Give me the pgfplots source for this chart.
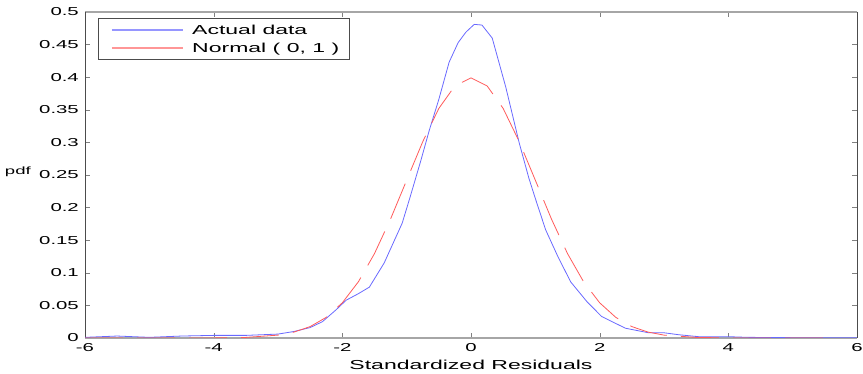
\documentclass[border=0pt]{standalone}
\usepackage{fontspec}
\setmainfont{Liberation Sans}
\usepackage{graphicx}
\usepackage{pgfplots}
\pgfplotsset{compat=1.18}
\newcommand\sx[1]{\scalebox{1.77}[1]{#1}}
\definecolor{cblue}{RGB}{105,105,255}
\definecolor{cred}{RGB}{255,90,90}
\definecolor{lblue}{RGB}{150,150,255}
\definecolor{lred}{RGB}{255,150,150}
\begin{document}
\begin{tikzpicture}
\begin{axis}[
  at={(85pt,36pt)}, anchor=south west,
  scale only axis, width=772pt, height=326pt,
  xmin=-6, xmax=6, ymin=0, ymax=0.5,
  xtick={-6,-4,-2,0,2,4,6},
  xticklabels={\sx{-6},\sx{-4},\sx{-2},\sx{0},\sx{2},\sx{4},\sx{6}},
  ytick={0,0.05,0.1,0.15,0.2,0.25,0.3,0.35,0.4,0.45,0.5},
  yticklabels={\sx{0},\sx{0.05},\sx{0.1},\sx{0.15},\sx{0.2},\sx{0.25},\sx{0.3},\sx{0.35},\sx{0.4},\sx{0.45},\sx{0.5}},
  tick label style={font=\fontsize{11.5pt}{13pt}\selectfont, inner sep=0pt},
  xticklabel style={yshift=-5pt},
  yticklabel style={xshift=-6pt},
  tick align=inside, major tick length=5pt,
  separate axis lines,
  x axis line style={draw=black!35, line width=1.4pt},
  y axis line style={draw=black!70, line width=0.9pt},
  xlabel={\sx{Standardized Residuals}},
  ylabel={\sx{pdf}},
  every axis x label/.style={at={(axis description cs:0.5,0)}, anchor=north, yshift=-22pt,
    font=\fontsize{13pt}{15pt}\selectfont, inner sep=0pt},
  every axis y label/.style={at={(axis description cs:0,0.5)}, anchor=east, xshift=-54pt, yshift=3pt,
    font=\fontsize{10.5pt}{12pt}\selectfont, inner sep=0pt},
]
\addplot[draw=cblue, line width=0.8pt] coordinates {
(-6,0.001) (-5.5,0.003) (-5,0.001) (-4.5,0.003) (-4,0.004) (-3.5,0.004) (-3,0.006)
(-2.75,0.010) (-2.5,0.016) (-2.31,0.025) (-2.1,0.043) (-1.94,0.058) (-1.75,0.068)
(-1.58,0.078) (-1.35,0.115) (-1.07,0.176) (-0.95,0.215) (-0.78,0.272) (-0.65,0.318)
(-0.5,0.366) (-0.34,0.423) (-0.2,0.453) (-0.08,0.469) (0.05,0.481) (0.17,0.480)
(0.33,0.46) (0.54,0.385) (0.75,0.299) (0.9,0.245) (1.0,0.214) (1.16,0.166)
(1.35,0.125) (1.55,0.086) (1.8,0.056) (2.03,0.033) (2.4,0.015) (2.76,0.008)
(3.0,0.008) (3.23,0.005) (3.54,0.002) (4,0.002) (4.3,0.001) (5,0.0005) (6,0.0005)
};
\addplot[draw=cred, line width=0.8pt, dash pattern=on 38pt off 14pt] coordinates {
(-6,0) (-5,0) (-4.5,0) (-4,0.0001) (-3.5,0.0009) (-3,0.0044) (-2.75,0.0091)
(-2.5,0.0175) (-2.25,0.0317) (-2,0.0540) (-1.75,0.0863) (-1.5,0.1295)
(-1.25,0.1826) (-1,0.2420) (-0.75,0.3011) (-0.5,0.3521) (-0.25,0.3867)
(0,0.3989) (0.25,0.3867) (0.5,0.3521) (0.75,0.3011) (1,0.2420) (1.25,0.1826)
(1.5,0.1295) (1.75,0.0863) (2,0.0540) (2.25,0.0317) (2.5,0.0175) (2.75,0.0091)
(3,0.0044) (3.5,0.0009) (4,0.0001) (4.5,0) (5,0) (5.5,0)
};
% legend (decoration)
\draw[black!70, line width=0.8pt, fill=white]
  (rel axis cs:0.01684,0.98160) rectangle (rel axis cs:0.34197,0.85583);
\draw[lblue, line width=1.3pt] (rel axis cs:0.03497,0.94479) -- (rel axis cs:0.12694,0.94479);
\draw[lred, line width=1.3pt] (rel axis cs:0.03497,0.88957) -- (rel axis cs:0.12694,0.88957);
\node[anchor=base west, inner sep=0pt, font=\fontsize{13pt}{15pt}\selectfont]
  at (rel axis cs:0.1386,0.92945) {\sx{Actual data}};
\node[anchor=base west, inner sep=0pt, font=\fontsize{13pt}{15pt}\selectfont]
  at (rel axis cs:0.1386,0.87423) {\sx{Normal ( 0, 1 )}};
\end{axis}
\pgfresetboundingbox
\useasboundingbox (0,0) rectangle (863pt,374pt);
\end{tikzpicture}
\end{document}
